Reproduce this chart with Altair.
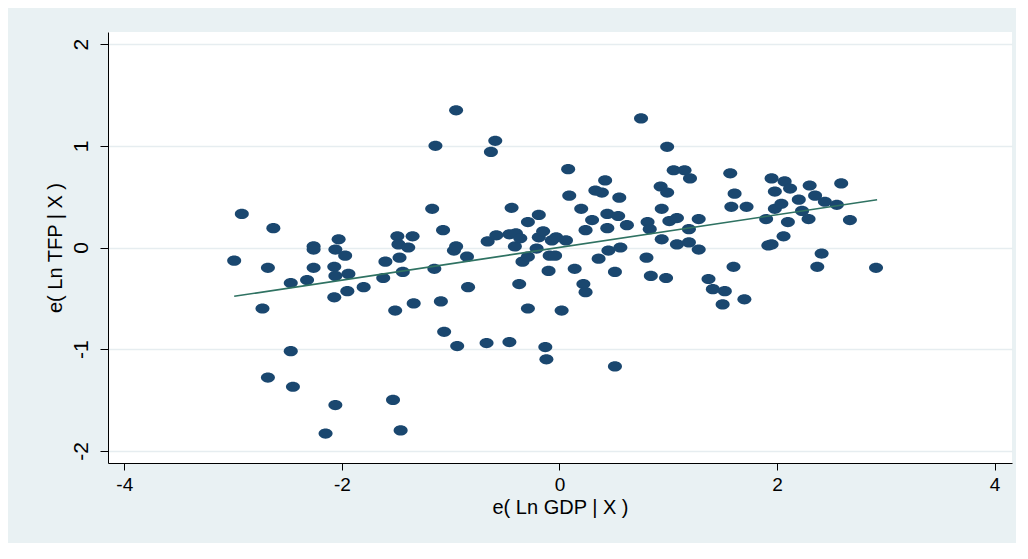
import altair as alt
import pandas as pd

# Residualised Ln GDP (x) and Ln TFP (y)
x_vals = [-2.99, -2.92, -2.73, -2.68, -2.63, -2.68, -2.47, -2.47, -2.45, -2.32,
          -2.26, -2.26, -2.26, -2.15, -2.07, -2.07, -2.06, -2.06, -2.06, -2.03,
          -1.97, -1.95, -1.94, -1.80, -1.62, -1.60, -1.53, -1.51, -1.49, -1.48,
          -1.47, -1.46, -1.44, -1.39, -1.35, -1.34, -1.17, -1.15, -1.14, -1.09,
          -1.07, -1.06, -0.97, -0.95, -0.95, -0.94, -0.85, -0.84, -0.67, -0.66,
          -0.63, -0.59, -0.58, -0.46, -0.46, -0.44, -0.40, -0.41, -0.36, -0.37,
          -0.34, -0.29, -0.29, -0.29, -0.21, -0.19, -0.19, -0.15, -0.13, -0.12,
          -0.10, -0.09, -0.04, -0.07, -0.03, 0.06, 0.02, 0.08, 0.09, 0.14,
          0.20, 0.22, 0.24, 0.24, 0.30, 0.33, 0.39, 0.42, 0.36, 0.44,
          0.44, 0.45, 0.51, 0.51, 0.55, 0.54, 0.56, 0.62, 0.75, 0.80,
          0.81, 0.83, 0.84, 0.93, 0.94, 0.94, 0.99, 0.98, 0.99, 1.01,
          1.05, 1.08, 1.08, 1.15, 1.20, 1.19, 1.19, 1.28, 1.28, 1.37,
          1.41, 1.52, 1.50, 1.57, 1.61, 1.58, 1.72, 1.60, 1.70, 1.90,
          1.92, 1.95, 1.95, 1.98, 1.98, 2.04, 2.07, 2.12, 2.06, 2.10,
          2.20, 2.23, 2.29, 2.30, 2.35, 2.37, 2.41, 2.44, 2.55, 2.59,
          2.67, 2.91]
y_vals = [-0.13, 0.33, -0.60, -0.20, 0.19, -1.28, -0.35, -1.02, -1.37, -0.32,
          -0.20, 0.01, -0.02, -1.83, -0.19, -0.49, -1.55, -0.02, -0.28, 0.08,
          -0.08, -0.43, -0.26, -0.39, -0.30, -0.14, -1.50, -0.62, 0.11, 0.03,
          -0.10, -1.80, -0.24, 0.00, 0.11, -0.55, 0.38, -0.21, 1.00, -0.53,
          0.17, -0.83, -0.03, 0.01, 1.35, -0.97, -0.09, -0.39, -0.94, 0.06,
          0.94, 1.05, 0.12, -0.93, 0.13, 0.39, 0.14, 0.01, 0.09, -0.36,
          -0.14, 0.25, -0.09, -0.60, -0.01, 0.10, 0.32, 0.16, -0.98, -1.10,
          -0.23, -0.08, -0.08, 0.07, 0.10, 0.07, -0.62, 0.77, 0.51, -0.21,
          0.38, -0.36, -0.44, 0.17, 0.27, 0.56, 0.54, 0.66, -0.11, 0.33,
          0.19, -0.03, -0.24, -1.17, 0.49, 0.31, 0.00, 0.22, 1.27, -0.10,
          0.25, 0.18, -0.28, 0.60, 0.38, 0.08, 0.54, -0.30, 0.99, 0.26,
          0.76, 0.29, 0.03, 0.76, 0.68, 0.18, 0.05, 0.28, -0.02, -0.31,
          -0.41, -0.43, -0.56, 0.73, 0.53, 0.40, 0.40, -0.19, -0.51, 0.28,
          0.02, 0.03, 0.68, 0.55, 0.38, 0.43, 0.65, 0.58, 0.11, 0.25,
          0.47, 0.36, 0.28, 0.61, 0.51, -0.19, -0.06, 0.45, 0.42, 0.63,
          0.27, -0.20]

# Fitted line end points
fit_x = [-2.99, 2.92]
fit_y = [-0.48, 0.47]

x_ticks = [-4, -2, 0, 2, 4]
y_ticks = [-2, -1, 0, 1, 2]

pts = pd.DataFrame({"x": x_vals, "y": y_vals})
fit = pd.DataFrame({"x": fit_x, "y": fit_y})

FONT = "Liberation Sans"
xscale = alt.Scale(domain=[-4.15, 4.16], nice=False, zero=False)
yscale = alt.Scale(domain=[-2.12, 2.12], nice=False, zero=False)

xaxis = alt.Axis(values=x_ticks, title="e( Ln GDP | X )", grid=False,
                 labelExpr="toString(datum.value)",
                 domainColor="#000000", tickColor="#000000", tickSize=7,
                 labelFontSize=19, labelPadding=5, labelColor="#000000",
                 labelFont=FONT, titleFont=FONT, titleFontSize=20,
                 titleFontWeight="normal", titleColor="#000000", titlePadding=3)
yaxis = alt.Axis(values=y_ticks, title="e( Ln TFP | X )", grid=True,
                 labelExpr="toString(datum.value)",
                 gridColor="#e6edf0", gridWidth=1.5,
                 domainColor="#000000", tickColor="#000000", tickSize=8,
                 labelAngle=270, labelAlign="center", labelBaseline="bottom",
                 labelFontSize=21, labelPadding=9, labelColor="#000000",
                 labelFont=FONT, titleFont=FONT, titleFontSize=20,
                 titleFontWeight="normal", titleColor="#000000", titlePadding=5)

ellipse = "M -1 0 A 1 0.73 0 1 0 1 0 A 1 0.73 0 1 0 -1 0 Z"

points = alt.Chart(pts).mark_point(
    shape=ellipse, filled=True, size=196, color="#1a476f", opacity=1, strokeWidth=0
).encode(
    x=alt.X("x:Q", scale=xscale, axis=xaxis),
    y=alt.Y("y:Q", scale=yscale, axis=yaxis),
)

line = alt.Chart(fit).mark_line(color="#2f7262", strokeWidth=1.6).encode(
    x=alt.X("x:Q", scale=xscale),
    y=alt.Y("y:Q", scale=yscale),
)

chart = alt.layer(points, line).properties(
    width=904, height=431,
    autosize=alt.AutoSizeParams(type="none"),
    padding={"left": 100, "top": 24, "right": 4, "bottom": 80},
    background="#e9f1f3",
).configure_view(fill="#ffffff", stroke=None)

chart.save("out.html", embed_options={"renderer": "svg", "actions": False})
